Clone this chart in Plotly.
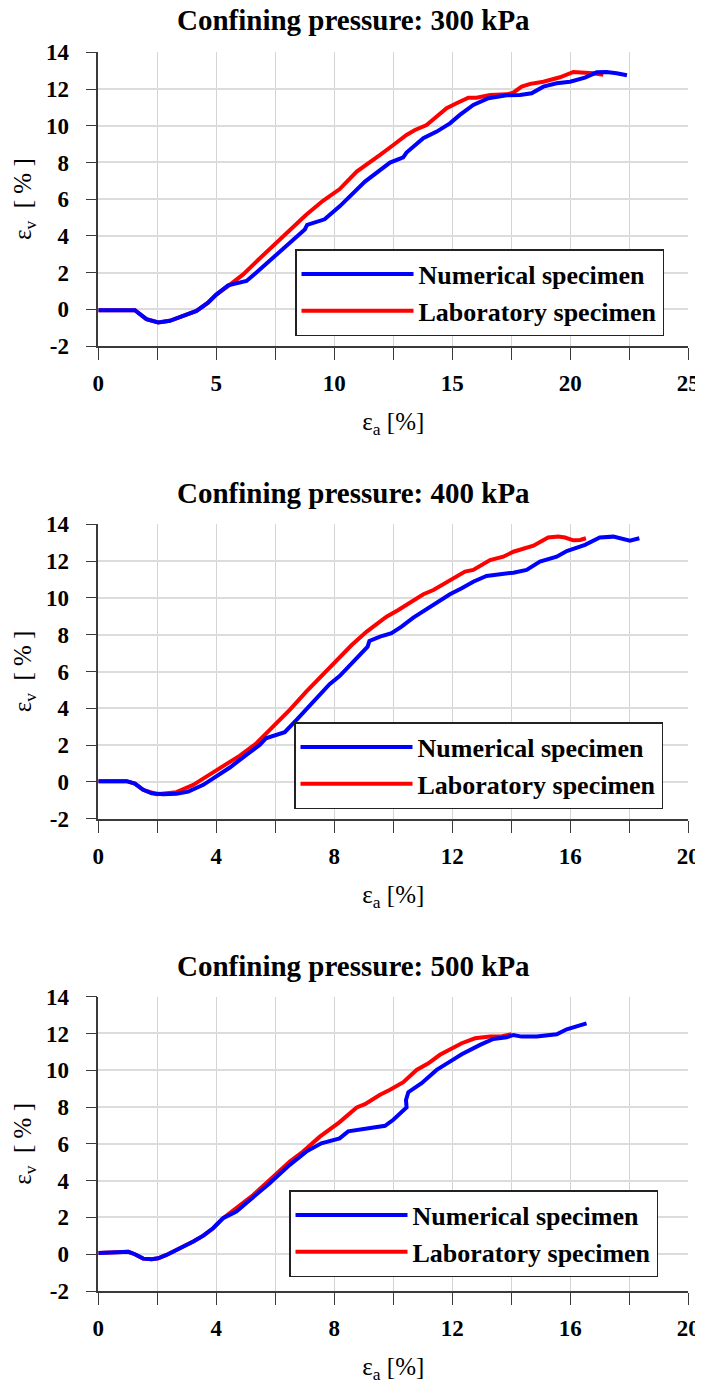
import plotly.graph_objects as go

# ---------------- data ----------------
# Panel 1: confining pressure 300 kPa
num300_x = [0, 1.55, 2.04, 2.54, 3.03, 3.6, 4.16, 4.65, 5.0, 5.5, 6.28, 6.7, 7.4, 8.1, 8.75, 8.85,
            9.59, 10.24, 11.3, 12.36, 12.92, 13.06, 13.77, 14.34, 14.9, 15.32, 15.89, 16.53, 17.3,
            17.87, 18.36, 18.86, 19.42, 19.99, 20.62, 21.12, 21.54, 21.96, 22.4]
num300_y = [-0.05, -0.05, -0.54, -0.72, -0.63, -0.36, -0.09, 0.36, 0.8, 1.3, 1.54, 2.0, 2.8, 3.6, 4.35, 4.6,
            4.9, 5.62, 6.96, 7.99, 8.28, 8.54, 9.32, 9.68, 10.13, 10.59, 11.13, 11.5, 11.66,
            11.68, 11.77, 12.13, 12.31, 12.4, 12.62, 12.91, 12.93, 12.86, 12.75]
lab300_x = [0, 1.55, 2.04, 2.54, 3.03, 3.6, 4.16, 4.65, 5.0, 5.54, 6.14, 6.78, 7.4, 8.1, 8.81, 9.52,
            10.23, 10.95, 11.37, 11.94, 12.5, 13.06, 13.42, 13.91, 14.34, 14.76, 15.18, 15.68, 16.03,
            16.6, 17.3, 17.58, 17.94, 18.3, 18.86, 19.56, 20.13, 20.55, 20.97, 21.4]
lab300_y = [-0.05, -0.05, -0.54, -0.72, -0.63, -0.36, -0.09, 0.36, 0.8, 1.3, 1.9, 2.7, 3.46, 4.33, 5.15, 5.91,
            6.55, 7.5, 7.87, 8.41, 8.95, 9.5, 9.77, 10.04, 10.5, 10.95, 11.22, 11.53, 11.53,
            11.68, 11.71, 11.8, 12.13, 12.28, 12.4, 12.64, 12.93, 12.91, 12.86, 12.77]

# Panel 2: confining pressure 400 kPa
num400_x = [0, 0.96, 1.24, 1.52, 1.81, 2.2, 2.65, 3.05, 3.56, 4.0, 4.46, 5.02, 5.47, 5.68, 5.93, 6.32,
            6.72, 7.28, 7.84, 8.18, 8.47, 8.87, 9.13, 9.19, 9.55, 9.94, 10.28, 10.68, 11.13, 11.53,
            11.92, 12.32, 12.71, 13.16, 13.62, 14.07, 14.52, 14.97, 15.54, 15.88, 16.5, 17.0, 17.46,
            17.74, 18.02, 18.34]
num400_y = [0.04, 0.04, -0.09, -0.43, -0.62, -0.67, -0.65, -0.53, -0.16, 0.29, 0.78, 1.47, 2.01, 2.37, 2.5, 2.7,
            3.37, 4.31, 5.31, 5.75, 6.26, 6.9, 7.35, 7.66, 7.9, 8.08, 8.44, 8.93, 9.38, 9.83,
            10.2, 10.52, 10.88, 11.19, 11.28, 11.37, 11.52, 11.97, 12.24, 12.55, 12.88, 13.28, 13.33,
            13.24, 13.11, 13.24]
lab400_x = [0, 0.96, 1.24, 1.52, 1.98, 2.65, 3.22, 3.67, 4.23, 4.8, 5.36, 5.93, 6.49, 7.05, 7.62, 8.17,
            8.59, 9.1, 9.77, 10.17, 10.56, 11.02, 11.36, 11.92, 12.43, 12.71, 13.28, 13.73, 14.07,
            14.75, 15.25, 15.59, 15.82, 16.1, 16.33, 16.53]
lab400_y = [0.04, 0.04, -0.09, -0.43, -0.67, -0.56, -0.16, 0.29, 0.83, 1.43, 2.1, 3.0, 3.91, 4.91, 5.82, 6.72,
            7.44, 8.17, 8.98, 9.34, 9.76, 10.2, 10.43, 10.94, 11.43, 11.52, 12.06, 12.24, 12.51,
            12.84, 13.28, 13.33, 13.28, 13.13, 13.15, 13.24]

# Panel 3: confining pressure 500 kPa
num500_x = [0, 0.62, 1.02, 1.24, 1.52, 1.81, 2.03, 2.31, 2.54, 2.88, 3.22, 3.56, 3.89, 4.23, 4.68, 5.14,
            5.81, 6.49, 7.05, 7.56, 8.18, 8.47, 8.98, 9.72, 10.0, 10.45, 10.43, 10.51, 10.96, 11.47,
            11.92, 12.32, 12.94, 13.39, 13.84, 14.07, 14.35, 14.86, 15.54, 15.88, 16.55]
num500_y = [0.07, 0.09, 0.13, 0.0, -0.24, -0.27, -0.22, -0.04, 0.14, 0.42, 0.69, 1.01, 1.41, 1.96, 2.32, 2.95,
            3.86, 4.86, 5.58, 6.03, 6.3, 6.68, 6.8, 6.98, 7.31, 7.98, 8.39, 8.81, 9.3, 10.02,
            10.47, 10.87, 11.38, 11.7, 11.79, 11.92, 11.83, 11.83, 11.96, 12.23, 12.55]
lab500_x = [0, 0.62, 1.02, 1.24, 1.52, 1.81, 2.03, 2.31, 2.54, 2.88, 3.22, 3.56, 3.89, 4.23, 4.8, 5.25,
            5.81, 6.49, 6.94, 7.51, 8.17, 8.76, 9.04, 9.55, 9.89, 10.34, 10.79, 11.19, 11.58, 11.92,
            12.32, 12.77, 13.28, 13.62, 14.01]
lab500_y = [0.07, 0.09, 0.13, 0.0, -0.24, -0.27, -0.22, -0.04, 0.14, 0.42, 0.69, 1.01, 1.41, 1.96, 2.64, 3.22,
            4.04, 5.04, 5.58, 6.39, 7.17, 7.98, 8.16, 8.67, 8.94, 9.35, 10.02, 10.38, 10.84, 11.11,
            11.47, 11.74, 11.83, 11.83, 11.96]

titles = ["Confining pressure: 300 kPa", "Confining pressure: 400 kPa", "Confining pressure: 500 kPa"]
series_names = ["Numerical specimen", "Laboratory specimen"]
x_ranges = [[0, 25], [0, 20], [0, 20]]
x_major = [5, 4, 4]
x_minor = [2.5, 2, 2]
y_range = [-2, 14]
y_tickvals = [-2, 0, 2, 4, 6, 8, 10, 12, 14]
y_ticktext = ["-2", "0", "2", "4", "6", "8", "10", "12", "14"]

# ---------------- styling / layout ----------------
WIN_W, WIN_H = 703, 1387
OFF = 8                      # default page margin of the html body
W, H = WIN_W - OFF, WIN_H - OFF
FONT = "Liberation Serif"
BLUE, RED = "#0000FF", "#FF0000"
GRID = "#d4d4d4"
AXIS = "#3a3a3a"


def px_x(p):
    return (p - OFF) / W


def px_y(p):
    return 1 - (p - OFF) / H


xdom = [px_x(98.3), px_x(688.3)]
# screen-pixel tops / bottoms of each plot area
panel_px = [(52.3, 346.0), (524.3, 818.7), (996.7, 1291.0)]
title_px = [20.0, 492.5, 965.5]
legend_px = [(295, 249), (294, 722), (289, 1190)]

data_sets = [
    (num300_x, num300_y, lab300_x, lab300_y),
    (num400_x, num400_y, lab400_x, lab400_y),
    (num500_x, num500_y, lab500_x, lab500_y),
]

fig = go.Figure()
legend_keys = ["legend", "legend2", "legend3"]

for i, (nx, ny, lx, ly) in enumerate(data_sets):
    xa = "x" if i == 0 else f"x{i+1}"
    ya = "y" if i == 0 else f"y{i+1}"
    fig.add_trace(go.Scatter(x=lx, y=ly, mode="lines", name=series_names[1],
                             line=dict(color=RED, width=4), xaxis=xa, yaxis=ya,
                             legend=legend_keys[i], legendrank=2))
    fig.add_trace(go.Scatter(x=nx, y=ny, mode="lines", name=series_names[0],
                             line=dict(color=BLUE, width=4), xaxis=xa, yaxis=ya,
                             legend=legend_keys[i], legendrank=1))

layout = dict(
    width=W, height=H,
    margin=dict(l=0, r=0, t=0, b=0),
    paper_bgcolor="white", plot_bgcolor="white",
    font=dict(family=FONT, color="black"),
    annotations=[],
)

tickfont = dict(family=FONT, size=23, color="black", weight="bold")
for i in range(3):
    top, bot = panel_px[i]
    ydom = [px_y(bot), px_y(top)]
    xk = "xaxis" if i == 0 else f"xaxis{i+1}"
    yk = "yaxis" if i == 0 else f"yaxis{i+1}"
    ya = "y" if i == 0 else f"y{i+1}"
    xa = "x" if i == 0 else f"x{i+1}"
    layout[xk] = dict(
        domain=xdom, anchor=ya, range=x_ranges[i], dtick=x_major[i], tick0=0,
        showline=True, linecolor=AXIS, linewidth=1.6,
        ticks="outside", ticklen=12, tickwidth=1.4, tickcolor=AXIS,
        showgrid=True, gridcolor=GRID, gridwidth=1.2, zeroline=False,
        tickfont=tickfont, ticklabelstandoff=4, ticklabeloverflow="allow",
        minor=dict(dtick=x_minor[i], tick0=0, ticks="outside", ticklen=12, tickwidth=1.4,
                   tickcolor=AXIS, showgrid=True, gridcolor=GRID, gridwidth=1.2),
        title=dict(text="ε<sub>a</sub> [%]", font=dict(family=FONT, size=25, color="black"),
                   standoff=17),
        automargin=False,
    )
    layout[yk] = dict(
        domain=ydom, anchor=xa, range=y_range, tickvals=y_tickvals, ticktext=y_ticktext,
        showline=True, linecolor=AXIS, linewidth=1.6,
        ticks="outside", ticklen=11, tickwidth=1.4, tickcolor=AXIS,
        showgrid=True, gridcolor="#dcdcdc", gridwidth=1.8, zeroline=False,
        tickfont=tickfont, ticklabelstandoff=12, ticklabeloverflow="allow",
        title=dict(text="ε<sub>v</sub>\u00a0\u00a0[\u00a0%\u00a0]",
                   font=dict(family=FONT, size=25, color="black"), standoff=7),
        automargin=False,
    )
    layout["annotations"].append(dict(
        text=titles[i], xref="paper", yref="paper", x=px_x(WIN_W / 2 + 2), y=px_y(title_px[i]),
        xanchor="center", yanchor="middle", showarrow=False,
        font=dict(family=FONT, size=29, color="black", weight="bold")))
    lx, ly = legend_px[i]
    layout[legend_keys[i]] = dict(
        x=px_x(lx), y=px_y(ly), xanchor="left", yanchor="top",
        xref="paper", yref="paper",
        bgcolor="white", bordercolor="#222222", borderwidth=1.5,
        font=dict(family=FONT, size=26, color="black", weight="bold"),
        itemwidth=112, tracegroupgap=0, traceorder="normal",
    )

fig.update_layout(**layout)
fig.write_html("out.html")
